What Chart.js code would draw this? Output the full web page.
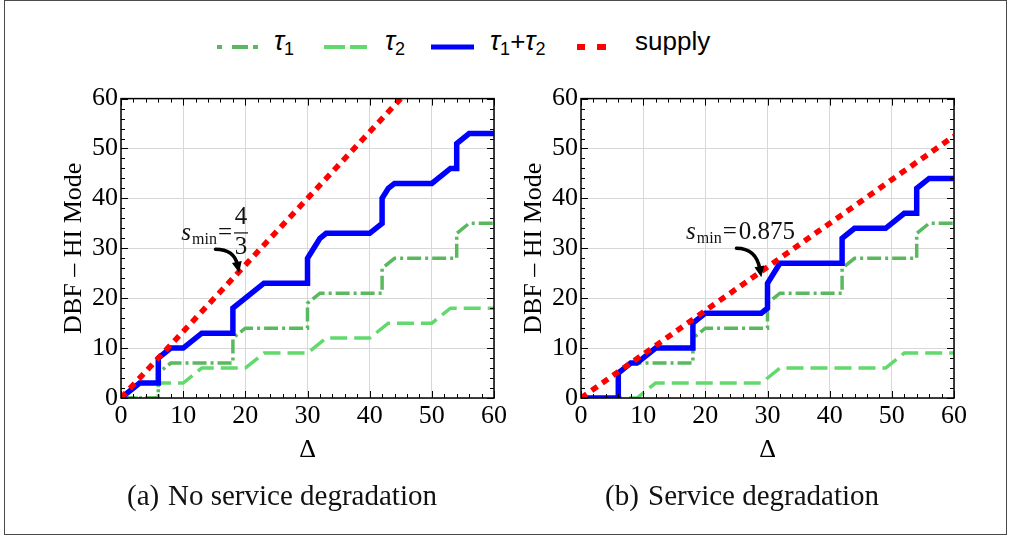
<!DOCTYPE html>
<html>
<head>
<meta charset="utf-8">
<script src="https://cdn.jsdelivr.net/npm/chart.js@4.4.1/dist/chart.umd.min.js"></script>
<style>
  body { margin: 0; background: #fff; }
  #fig { position: relative; width: 1012px; height: 536px; overflow: hidden; background: #fff; }
  #frame { position: absolute; left: 4px; top: 0; width: 1003px; height: 535px; border: 1.5px solid #4a4a4a; box-sizing: border-box; }
  canvas { position: absolute; top: 80px; }
  .leg { position: absolute; top: 28px; font-family: "Liberation Sans", Arial, sans-serif; font-size: 26px; line-height: 26px; color: #000; white-space: nowrap; }
  .leg i { font-style: italic; font-size: 27px; }
  .leg sub { font-size: 18px; vertical-align: -5px; line-height: 0; }
  .sw { position: absolute; top: 40px; }
  .cap { position: absolute; top: 481px; font-family: "Liberation Serif", "Times New Roman", serif; font-size: 29px; line-height: 29px; color: #111; white-space: nowrap; }
</style>
</head>
<body>
<div id="fig">
  <div id="frame"></div>

  <svg class="sw" style="left:217px" width="42" height="14"><g fill="#5ab85e"><rect x="0" y="5" width="5" height="4"/><rect x="15" y="5" width="16" height="4"/><rect x="36" y="5" width="5" height="4"/></g></svg>
  <div class="leg" style="left:274px"><i>τ</i><sub>1</sub></div>

  <svg class="sw" style="left:324px" width="44" height="14"><g fill="#62d96c"><rect x="0" y="5" width="21" height="4"/><rect x="26" y="5" width="17" height="4"/></g></svg>
  <div class="leg" style="left:385px"><i>τ</i><sub>2</sub></div>

  <svg class="sw" style="left:431px" width="44" height="14"><rect x="0" y="4.5" width="43" height="5" fill="#0000ff"/></svg>
  <div class="leg" style="left:490px"><i>τ</i><sub>1</sub>+<i>τ</i><sub>2</sub></div>

  <svg class="sw" style="left:577px" width="30" height="14"><g fill="#ff0000"><rect x="0" y="4" width="8" height="6"/><rect x="20" y="4" width="9" height="6"/></g></svg>
  <div class="leg" style="left:635px">supply</div>

  <canvas id="chartA" width="510" height="400" style="left:0px"></canvas>
  <canvas id="chartB" width="510" height="400" style="left:460px"></canvas>

  <div class="cap" id="capA" style="left:127px"></div>
  <div class="cap" id="capB" style="left:605px"></div>
</div>

<script>
// tick values shared by both axes of both panels
const axisTicks = [0, 10, 20, 30, 40, 50, 60];

// tau1, same in both panels
const tau1X = [0, 6, 6, 8, 18, 18, 20, 30, 30, 32, 42, 42, 44, 54, 54, 56, 60];
const tau1Y = [0, 0, 5, 7, 7, 12, 14, 14, 19, 21, 21, 26, 28, 28, 33, 35, 35];

// (a) no service degradation
const tau2AX = [0, 6, 6, 10, 13, 20, 23, 30, 33, 40, 43, 50, 53, 60];
const tau2AY = [0, 0, 3, 3, 6, 6, 9, 9, 12, 12, 15, 15, 18, 18];
const sumAX = [0, 3, 6, 6, 8, 10, 13, 18, 18, 23, 30, 30, 32, 33, 40, 42, 42, 43, 44, 50, 53, 54, 54, 56, 60];
const sumAY = [0, 3, 3, 8, 10, 10, 13, 13, 18, 23, 23, 28, 32, 33, 33, 35, 40, 42, 43, 43, 46, 46, 51, 53, 53];
const supplyAX = [0, 45];
const supplyAY = [0, 60];

// (b) service degradation
const tau2BX = [0, 9, 12, 29, 32, 49, 52, 60];
const tau2BY = [0, 0, 3, 3, 6, 6, 9, 9];
const sumBX = [0, 6, 6, 8, 9, 12, 18, 18, 20, 29, 30, 30, 32, 42, 42, 44, 49, 52, 54, 54, 56, 60];
const sumBY = [0, 0, 5, 7, 7, 10, 10, 15, 17, 17, 18, 23, 27, 27, 32, 34, 34, 37, 37, 42, 44, 44];
const supplyBX = [0, 60];
const supplyBY = [0, 52.5];

const captions = ['(a)', 'No service degradation', '(b)', 'Service degradation'];

function pts(xs, ys) {
    return xs.map((x, i) => ({ x: x, y: ys[i] }));
}

// Mathematica style frame with inward ticks, plus the s_min note
const framePlugin = {
    id: 'frame',
    afterDatasetsDraw(chart, args, opts) {
        const ctx = chart.ctx;
        const a = chart.chartArea;
        const xs = chart.scales.x;
        const ys = chart.scales.y;
        ctx.save();
        ctx.strokeStyle = '#000';
        ctx.lineWidth = 1;
        for (let v = 0; v <= 60; v += 2) {
            const len = v % 10 === 0 ? 7 : 4;
            const px = Math.round(xs.getPixelForValue(v)) + 0.5;
            const py = Math.round(ys.getPixelForValue(v)) + 0.5;
            ctx.beginPath();
            ctx.moveTo(px, a.bottom); ctx.lineTo(px, a.bottom - len);
            ctx.moveTo(px, a.top); ctx.lineTo(px, a.top + len);
            ctx.moveTo(a.left, py); ctx.lineTo(a.left + len, py);
            ctx.moveTo(a.right, py); ctx.lineTo(a.right - len, py);
            ctx.stroke();
        }
        ctx.lineWidth = 1.5;
        ctx.strokeRect(a.left, a.top, a.right - a.left, a.bottom - a.top);

        // annotation
        const n = opts.note;
        let x = xs.getPixelForValue(n.at[0]);
        const y = ys.getPixelForValue(n.at[1]);
        ctx.fillStyle = '#111';
        ctx.textBaseline = 'alphabetic';
        ctx.textAlign = 'left';
        ctx.font = 'italic 25px "Liberation Serif"';
        ctx.fillText('s', x, y);
        x += ctx.measureText('s').width + 1;
        ctx.font = '16px "Liberation Serif"';
        ctx.fillText('min', x, y + 4);
        x += ctx.measureText('min').width + 1;
        ctx.font = '25px "Liberation Serif"';
        ctx.fillText('=', x, y);
        x += ctx.measureText('=').width + 2;
        if (n.frac) {
            ctx.textAlign = 'center';
            const w = 14;
            ctx.fillText(n.frac[0], x + w / 2, y - 16);
            ctx.fillText(n.frac[1], x + w / 2, y + 14);
            ctx.fillRect(x, y - 8, w, 1.2);
        } else {
            ctx.fillText(n.text, x, y);
        }
        // curved arrow
        const sx = xs.getPixelForValue(n.from[0]), sy = ys.getPixelForValue(n.from[1]);
        const ex = xs.getPixelForValue(n.to[0]), ey = ys.getPixelForValue(n.to[1]);
        const cx = ex - 5, cy = sy;
        ctx.strokeStyle = '#000';
        ctx.lineWidth = 3.5;
        ctx.lineCap = 'round';
        const ang = Math.atan2(ey - cy, ex - cx);
        const bx = ex - Math.cos(ang) * 8, by = ey - Math.sin(ang) * 8;
        ctx.beginPath();
        ctx.moveTo(sx, sy);
        ctx.quadraticCurveTo(cx, cy, bx, by);
        ctx.stroke();
        ctx.fillStyle = '#000';
        ctx.beginPath();
        ctx.moveTo(ex, ey);
        ctx.lineTo(ex - Math.cos(ang) * 11 + Math.sin(ang) * 5, ey - Math.sin(ang) * 11 - Math.cos(ang) * 5);
        ctx.lineTo(ex - Math.cos(ang) * 11 - Math.sin(ang) * 5, ey - Math.sin(ang) * 11 + Math.cos(ang) * 5);
        ctx.closePath();
        ctx.fill();
        ctx.restore();
    }
};

function axis(title, isX) {
    const s = {
        type: 'linear',
        min: 0,
        max: 60,
        afterBuildTicks: sc => { sc.ticks = axisTicks.map(v => ({ value: v })); },
        ticks: {
            color: '#000',
            font: { family: 'Liberation Serif', size: 26 },
            padding: 3,
            maxRotation: 0,
            autoSkip: false
        },
        grid: { color: '#d8d8d8', lineWidth: 1, drawTicks: false },
        border: { display: false },
        title: {
            display: true,
            text: title,
            color: '#000',
            font: { family: 'Liberation Serif', size: 26 },
            padding: isX ? { top: 0, bottom: 14 } : { top: 59, bottom: 0 }
        }
    };
    if (isX) s.afterFit = sc => { sc.height = 82; };
    else s.afterFit = sc => { sc.width = 121; };
    return s;
}

function makeChart(id, tau2, sum, supply, note) {
    return new Chart(document.getElementById(id), {
        type: 'line',
        data: {
            datasets: [
                { label: 'supply', data: supply, borderColor: '#ff0000', borderWidth: 5.5, borderDash: [7, 6] },
                { label: 'τ1+τ2', data: sum, borderColor: '#0000ff', borderWidth: 5.5 },
                { label: 'τ1', data: pts(tau1X, tau1Y), borderColor: '#5ab85e', borderWidth: 3.5, borderDash: [14, 4, 3, 4] },
                { label: 'τ2', data: tau2, borderColor: '#62d96c', borderWidth: 3.5, borderDash: [17, 7] }
            ]
        },
        options: {
            responsive: false,
            animation: false,
            devicePixelRatio: 1,
            elements: {
                point: { radius: 0 },
                line: { tension: 0, borderCapStyle: 'butt', borderJoinStyle: 'miter', fill: false }
            },
            layout: { padding: { top: 18, right: 13, bottom: 0, left: 0 } },
            scales: { x: axis('Δ', true), y: axis('DBF – HI Mode', false) },
            plugins: {
                legend: { display: false },
                tooltip: { enabled: false },
                frame: { note: note }
            }
        },
        plugins: [framePlugin]
    });
}

makeChart('chartA', pts(tau2AX, tau2AY), pts(sumAX, sumAY), pts(supplyAX, supplyAY),
    { at: [9.7, 31.6], frac: ['4', '3'], from: [15.2, 29.8], to: [19.0, 25.1] });
makeChart('chartB', pts(tau2BX, tau2BY), pts(sumBX, sumBY), pts(supplyBX, supplyBY),
    { at: [16.9, 31.8], text: '0.875', from: [25.0, 30.0], to: [29.0, 24.2] });

document.getElementById('capA').innerHTML = captions[0] + '<span style="position:absolute;left:41px">' + captions[1] + '</span>';
document.getElementById('capB').innerHTML = captions[2] + '<span style="position:absolute;left:43px">' + captions[3] + '</span>';
</script>
</body>
</html>
